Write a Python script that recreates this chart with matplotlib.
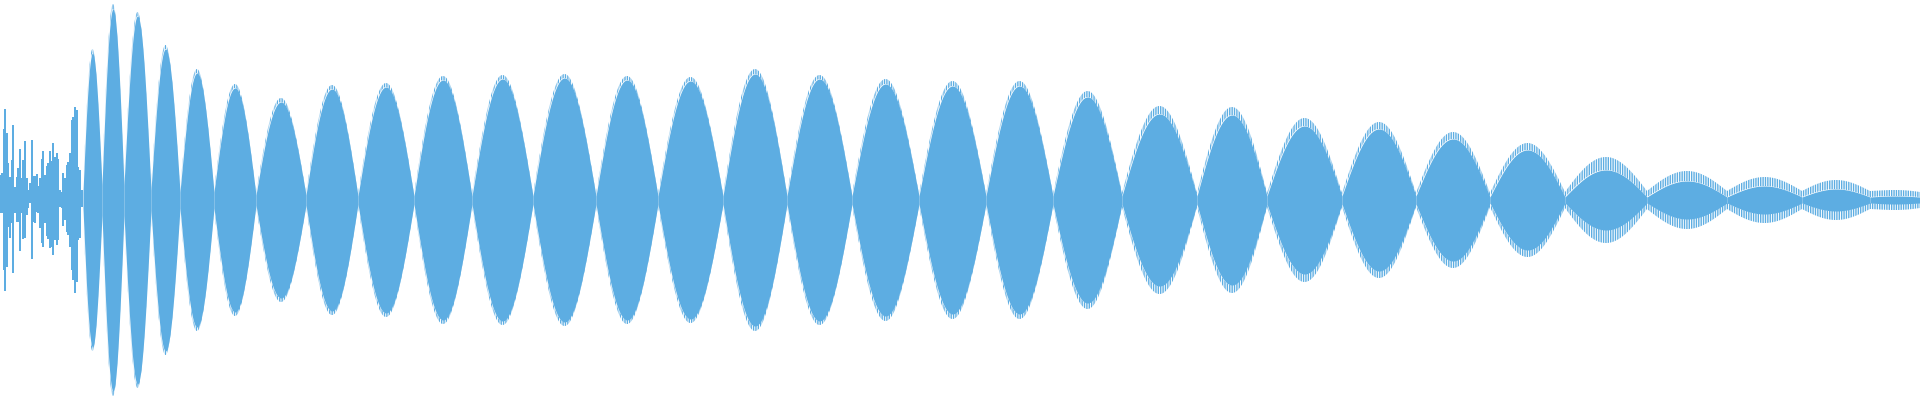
import numpy as np
import matplotlib.pyplot as plt

# waveform; x in frames (0..1920), amplitude in pixels of half-height 200
color = '#5dade2'

# onset: irregular transient spikes (x, upper amp, lower amp)
onset_x = [0.7, 2.3, 4.0, 5.0, 6.7, 8.3, 10.0, 11.7, 13.3, 15.0, 16.7, 18.3, 20.0, 21.7,
           23.3, 25.0, 26.7, 28.3, 30.0, 32.3, 33.3, 35.0, 36.7, 38.3, 40.0, 41.7, 43.3,
           45.0, 46.7, 48.3, 50.0, 51.7, 53.3, 55.0, 56.7, 58.3, 60.0, 61.7, 63.3, 65.0,
           66.7, 68.3, 70.0, 71.7, 73.3, 75.0, 76.7, 78.3, 80.0, 81.7]
onset_up = [25, 27, 71, 91, 67, 37, 23, 40, 75, 13, 23, 32, 51, 22,
            40, 59, 22, 10, 17, 60, 24, 24, 26, 14, 22, 41, 49,
            25, 34, 37, 49, 39, 57, 43, 47, 41, 10, 8, 27, 22,
            35, 38, 47, 80, 83, 93, 90, 33, 30, 10]
onset_down = [13, 13, 70, 91, 67, 27, 38, 23, 73, 13, 22, 22, 51, 13,
              39, 38, 15, 8, 3, 59, 22, 23, 12, 13, 28, 43, 47,
              23, 36, 39, 48, 47, 55, 40, 45, 40, 7, 8, 26, 20,
              32, 35, 47, 70, 80, 93, 82, 40, 38, 7]

# beating body: lobe boundaries, level at each boundary, solid and spiky peak of each lobe
nodes = [83, 102, 124, 151, 180, 214, 256, 306, 358, 414, 472, 533, 596, 658, 723, 787,
         852, 919, 986, 1053, 1122, 1197, 1267, 1342, 1416, 1490, 1565, 1647, 1727, 1802,
         1870, 1920]
node_floor = [8, 15, 15, 10, 8, 8, 5, 5, 4, 4, 4, 4, 4, 4, 4, 4,
              4, 4, 4, 4, 4, 4, 4, 4, 4, 3, 3, 3, 3, 3, 3, 3]
node_fuzz = [10, 17, 17, 12, 10, 10, 7, 7, 6, 6, 6, 6, 6, 6, 6, 6,
             6, 6, 6, 6, 7, 7, 7, 7, 7, 7, 8, 9, 9, 9, 9, 8]
peaks = [147, 191, 184, 151, 127, 112, 98, 111, 113, 120, 121, 122, 120, 119, 126, 121,
         116, 114, 114, 103, 86, 85, 74, 71, 61, 50, 30, 19, 14, 11, 4]
peaks_fuzz = [151, 196, 188, 155, 131, 116, 102, 115, 117, 124, 125, 126, 124, 123, 131, 125,
              121, 119, 119, 109, 94, 93, 82, 78, 68, 57, 43, 29, 23, 20, 10]

plt.rcParams['hatch.linewidth'] = 1.0
fig = plt.figure(figsize=(19.2, 4), dpi=100)
ax = fig.add_axes([0, 0, 1, 1])

up = np.array(onset_up) / 200
down = np.array(onset_down) / 200
ax.bar(onset_x, up + down, bottom=-down, width=1.75, color=color, linewidth=0)

for i in range(len(peaks)):
    x0, x1 = nodes[i], nodes[i + 1]
    x = np.linspace(x0, x1, 200)
    t = (x - x0) / (x1 - x0)
    s = np.sin(np.pi * t)
    floor = (node_floor[i] * (1 - t) + node_floor[i + 1] * t) / 200
    ffloor = (node_fuzz[i] * (1 - t) + node_fuzz[i + 1] * t) / 200
    env = floor + (peaks[i] / 200 - floor) * s
    fenv = ffloor + (peaks_fuzz[i] / 200 - ffloor) * s
    ax.fill_between(x, -env, env, color=color, linewidth=0)
    # jagged carrier tips just outside the solid body
    ax.fill_between(x, env, fenv, facecolor='none', edgecolor=color,
                    hatch='|' * 7, linewidth=0)
    ax.fill_between(x, -fenv, -env, facecolor='none', edgecolor=color,
                    hatch='|' * 7, linewidth=0)

ax.set_xlim(0, 1920)
ax.set_ylim(-1, 1)
ax.axis('off')

plt.savefig('out.png', dpi=100)
